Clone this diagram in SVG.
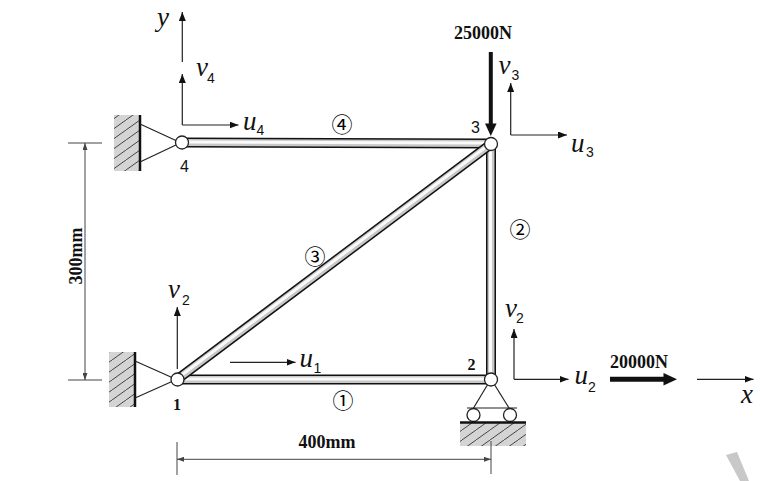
<svg xmlns="http://www.w3.org/2000/svg" width="760" height="481" viewBox="0 0 760 481">
<style>
.thin{stroke:#222;stroke-width:1.2;fill:none}
.dim{stroke:#444;stroke-width:1;fill:none}
.bo{stroke:#111;stroke-width:10;stroke-linecap:butt;fill:none}
.bm{stroke:#c8c8c8;stroke-width:7;stroke-linecap:butt;fill:none}
.bi{stroke:#fafafa;stroke-width:3;stroke-linecap:butt;fill:none}
.node{fill:#fff;stroke:#222;stroke-width:1.3}
.lab{font-family:"Liberation Serif",serif;font-style:italic;font-size:27px;fill:#111}
.sub{font-family:"Liberation Sans",sans-serif;font-size:14px;fill:#111}
.num{font-family:"Liberation Serif",serif;font-weight:bold;font-size:16px;fill:#111}
.nums{font-family:"Liberation Sans",sans-serif;font-size:16px;fill:#111}
.val{font-family:"Liberation Serif",serif;font-weight:bold;font-size:18px;fill:#111}
.cir{font-family:"Noto Sans CJK SC","DejaVu Sans",sans-serif;font-size:21px;fill:#000;text-anchor:middle;dominant-baseline:central}
</style>
<defs>
<marker id="ah" markerUnits="userSpaceOnUse" markerWidth="9" markerHeight="7" refX="9" refY="3.5" orient="auto">
<path d="M0,0 L9,3.5 L0,7 z" fill="#111"/>
</marker>
<marker id="dh" markerUnits="userSpaceOnUse" markerWidth="7" markerHeight="5" refX="7" refY="2.5" orient="auto-start-reverse">
<path d="M0,0 L7,2.5 L0,5 z" fill="#444"/>
</marker>
<pattern id="hatch" patternUnits="userSpaceOnUse" width="14" height="10">
<rect width="14" height="10" fill="#d4d4d4"/>
<line x1="0" y1="10" x2="14" y2="0" stroke="#333" stroke-width="0.9"/>
</pattern>
</defs>

<g id="connectors">
<g id="bar4"><line class="bo" x1="182" y1="142.5" x2="491" y2="143.5"/><line class="bm" x1="182" y1="142.5" x2="491" y2="143.5"/><line class="bi" x1="182" y1="142" x2="491" y2="143"/></g>
<g id="bar2"><line class="bo" x1="491" y1="144" x2="491" y2="379"/><line class="bm" x1="491" y1="144" x2="491" y2="379"/><line class="bi" x1="490.5" y1="144" x2="490.5" y2="379"/></g>
<g id="bar1"><line class="bo" x1="177" y1="379.5" x2="491" y2="379.5"/><line class="bm" x1="177" y1="379.5" x2="491" y2="379.5"/><line class="bi" x1="177" y1="379" x2="491" y2="379"/></g>
<g id="bar3"><line class="bo" x1="177" y1="379.5" x2="491" y2="144"/><line class="bm" x1="177" y1="379.5" x2="491" y2="144"/><line class="bi" x1="176.5" y1="379" x2="490.5" y2="143.5"/></g>
</g>

<g id="support4">
<rect x="114" y="115" width="26" height="56" fill="url(#hatch)"/>
<line x1="140" y1="115" x2="140" y2="171" stroke="#111" stroke-width="2.5"/>
<line class="thin" x1="140" y1="124" x2="177" y2="141"/>
<line class="thin" x1="140" y1="162" x2="177" y2="144.5"/>
</g>
<g id="support1">
<rect x="109" y="352" width="26" height="55" fill="url(#hatch)"/>
<line x1="135" y1="352" x2="135" y2="407" stroke="#111" stroke-width="2.5"/>
<line class="thin" x1="135" y1="361" x2="172" y2="377.5"/>
<line class="thin" x1="135" y1="398" x2="172" y2="381.5"/>
</g>
<g id="support2">
<line class="thin" x1="491" y1="379" x2="473.5" y2="408"/>
<line class="thin" x1="491" y1="379" x2="509" y2="408"/>
<line class="thin" x1="467" y1="408" x2="517" y2="408"/>
<circle class="node" cx="473.5" cy="415" r="6.5"/>
<circle class="node" cx="510" cy="415" r="6.5"/>
<rect x="460" y="423" width="66" height="23" fill="url(#hatch)"/>
<line x1="460" y1="422.5" x2="526" y2="422.5" stroke="#111" stroke-width="2.5"/>
</g>

<g id="node4"><circle class="node" cx="182" cy="142.5" r="6.5"/><text class="nums" x="180" y="171.5">4</text></g>
<g id="node3"><circle class="node" cx="491" cy="144" r="6.5"/><text class="nums" x="471" y="132.5">3</text></g>
<g id="node1"><circle class="node" cx="177.5" cy="379.5" r="6.5"/><text class="num" x="173" y="410">1</text></g>
<g id="node2"><circle class="node" cx="491" cy="379.5" r="6.5"/><text class="num" x="467.5" y="369.5">2</text></g>

<g id="element-labels">
<text class="cir" x="342" y="122.5">④</text>
<text class="cir" x="520" y="227.5">②</text>
<text class="cir" x="315" y="254.5">③</text>
<text class="cir" x="343" y="399">①</text>
</g>

<g id="axes">
<line class="thin" x1="182.3" y1="62" x2="182.3" y2="12" marker-end="url(#ah)"/>
<text class="lab" x="157" y="26">y</text>
<line class="thin" x1="697" y1="379.3" x2="753.5" y2="379.3" marker-end="url(#ah)"/>
<text class="lab" x="741" y="403">x</text>
</g>

<g id="dofs">
<line class="thin" x1="182.3" y1="125" x2="182.3" y2="74" marker-end="url(#ah)"/>
<line class="thin" x1="182.3" y1="125" x2="238.5" y2="125" marker-end="url(#ah)"/>
<text class="lab" x="196" y="76">v</text><text class="sub" x="207" y="82.5">4</text>
<text class="lab" x="243" y="130">u</text><text class="sub" x="256.5" y="135">4</text>

<line class="thin" x1="510.7" y1="135" x2="510.7" y2="83" marker-end="url(#ah)"/>
<line class="thin" x1="510.7" y1="135" x2="567" y2="135" marker-end="url(#ah)"/>
<text class="lab" x="498.5" y="74">v</text><text class="sub" x="511.5" y="80">3</text>
<text class="lab" x="571" y="151.5">u</text><text class="sub" x="586" y="156.5">3</text>

<line class="thin" x1="177.3" y1="369" x2="177.3" y2="307" marker-end="url(#ah)"/>
<text class="lab" x="168" y="298">v</text><text class="sub" x="182" y="305">2</text>
<line class="thin" x1="230" y1="362.3" x2="295.5" y2="362.3" marker-end="url(#ah)"/>
<text class="lab" x="299.5" y="366.5">u</text><text class="sub" x="313.5" y="373">1</text>

<line class="thin" x1="514" y1="379.3" x2="514" y2="329" marker-end="url(#ah)"/>
<line class="thin" x1="514" y1="379.3" x2="568.5" y2="379.3" marker-end="url(#ah)"/>
<text class="lab" x="505" y="316.5">v</text><text class="sub" x="516" y="323">2</text>
<text class="lab" x="574.5" y="384">u</text><text class="sub" x="588" y="391.5">2</text>
</g>

<g id="loads">
<line x1="490.8" y1="52" x2="490.8" y2="125" stroke="#111" stroke-width="4"/>
<polygon points="485,123.5 496.6,123.5 490.8,136" fill="#111"/>
<text class="val" x="454" y="38.5">25000N</text>
<line x1="610" y1="379.3" x2="665" y2="379.3" stroke="#111" stroke-width="5"/>
<polygon points="663.5,373 677,379.3 663.5,385.6" fill="#111"/>
<text class="val" x="610" y="367.5">20000N</text>
</g>

<g id="dimensions">
<line class="dim" x1="68" y1="143" x2="102" y2="143"/>
<line class="dim" x1="68" y1="380" x2="102" y2="380"/>
<line class="dim" x1="85" y1="143" x2="85" y2="380" marker-start="url(#dh)" marker-end="url(#dh)"/>
<text class="val" x="82" y="256" text-anchor="middle" transform="rotate(-90 82 256)">300mm</text>
<line class="dim" x1="177" y1="442" x2="177" y2="475"/>
<line class="dim" x1="491" y1="441" x2="491" y2="474"/>
<line class="dim" x1="177" y1="459.3" x2="491" y2="459.3" marker-start="url(#dh)" marker-end="url(#dh)"/>
<text class="val" x="327" y="448" text-anchor="middle">400mm</text>
</g>

<polygon points="726,455 737,452 749,481 740,481" fill="#c8c8c8"/>
</svg>
